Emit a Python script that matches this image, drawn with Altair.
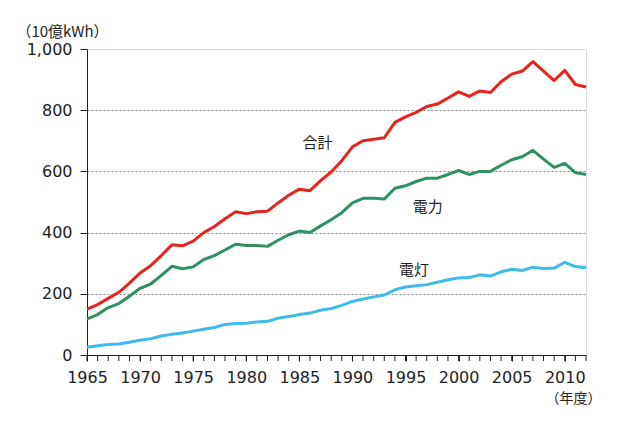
import altair as alt
import pandas as pd

years = list(range(1965, 2013))
total = [150, 165, 185, 205, 235, 268, 292, 325, 360, 357,
         372, 400, 420, 445, 468, 462, 468, 470, 497, 522,
         542, 537, 570, 598, 635, 680, 700, 705, 710, 760,
         778, 793, 812, 820, 840, 860, 845, 863, 858, 893,
         918, 928, 959, 928, 897, 930, 884, 876]
power = [118, 132, 155, 168, 192, 218, 232, 260, 290, 282,
         288, 312, 325, 343, 362, 358, 358, 355, 375, 393,
         405, 400, 422, 442, 465, 497, 512, 512, 510, 545,
         553, 567, 578, 578, 590, 603, 590, 600, 600, 620,
         638, 648, 669, 640, 613, 626, 596, 590]
light = [25, 30, 34, 36, 42, 48, 53, 62, 68, 72,
         78, 84, 90, 100, 103, 104, 108, 110, 120, 126,
         132, 137, 146, 152, 162, 175, 183, 190, 196, 213,
         222, 226, 230, 238, 246, 252, 253, 262, 258, 272,
         280, 276, 287, 283, 284, 303, 289, 285]

x_label_years = [1965, 1970, 1975, 1980, 1985, 1990, 1995, 2000, 2005, 2010]
y_ticks = [0, 200, 400, 600, 800, 1000]

series_names = ["合計", "電力", "電灯"]
series_colors = ["#e8231e", "#2f9060", "#3dbbea"]

label_text = ["合計", "電力", "電灯"]
label_x = [1986.7, 1997.1, 1995.8]
label_y = [694, 484, 278]

rows = []
for name, vals in zip(series_names, [total, power, light]):
    for y, v in zip(years, vals):
        rows.append({"year": y, "value": v, "series": name})
df = pd.DataFrame(rows)
lab = pd.DataFrame({"text": label_text, "x": label_x, "y": label_y})
ticks_df = pd.DataFrame({"year": years})

JP = "Noto Sans CJK JP"
NUM = "DejaVu Sans"

xscale = alt.Scale(domain=[1965, 2012], nice=False, zero=False)
yscale = alt.Scale(domain=[0, 1000], nice=False)

lines = alt.Chart(df).mark_line(strokeWidth=3, strokeJoin="round").encode(
    x=alt.X("year:Q", scale=xscale,
            axis=alt.Axis(values=x_label_years, format="d", labelOverlap=False,
                          grid=False, tickSize=6, tickColor="#222",
                          domainColor="#222", labelFontSize=16, labelColor="#222",
                          labelPadding=8, labelFont=NUM, labelFlush=False,
                          title="（年度）", titleFont=JP, titleFontSize=14,
                          titleFontWeight="normal", titleColor="#222",
                          titleX=486, titleY=43, titleAlign="center",
                          titleBaseline="middle")),
    y=alt.Y("value:Q", scale=yscale,
            axis=alt.Axis(values=y_ticks, format=",d",
                          grid=True, gridDash=[2, 2], gridColor="#888",
                          gridWidth=1,
                          gridOpacity={"condition": {"test": "datum.value == 1000 || datum.value == 0", "value": 0}, "value": 1},
                          tickSize=7, tickColor="#222",
                          domainColor="#222", labelFontSize=16, labelColor="#222",
                          labelPadding=8, labelFont=NUM,
                          title="（10億kWh）", titleFont=JP, titleFontSize=15,
                          titleFontWeight="normal", titleColor="#222",
                          titleAngle=0, titleX=-25, titleY=-18,
                          titleAlign="center", titleBaseline="middle")),
    color=alt.Color("series:N", scale=alt.Scale(domain=series_names, range=series_colors),
                    legend=None),
)

minor_ticks = alt.Chart(ticks_df).mark_rule(color="#222", strokeWidth=1).encode(
    x=alt.X("year:Q", scale=xscale),
    y=alt.value(306),
    y2=alt.value(312),
)

texts = alt.Chart(lab).mark_text(font=JP, fontSize=15, color="#222").encode(
    x=alt.X("x:Q", scale=xscale),
    y=alt.Y("y:Q", scale=yscale),
    text="text:N",
)

chart = alt.layer(lines, minor_ticks, texts).properties(
    width=499, height=306,
    autosize=alt.AutoSizeParams(type="none"),
    padding={"left": 79, "top": 41, "right": 25, "bottom": 50},
).configure_view(stroke="#222", strokeWidth=1.5).configure(background="white")

chart.save("out.html", embed_options={"renderer": "svg", "actions": False})
